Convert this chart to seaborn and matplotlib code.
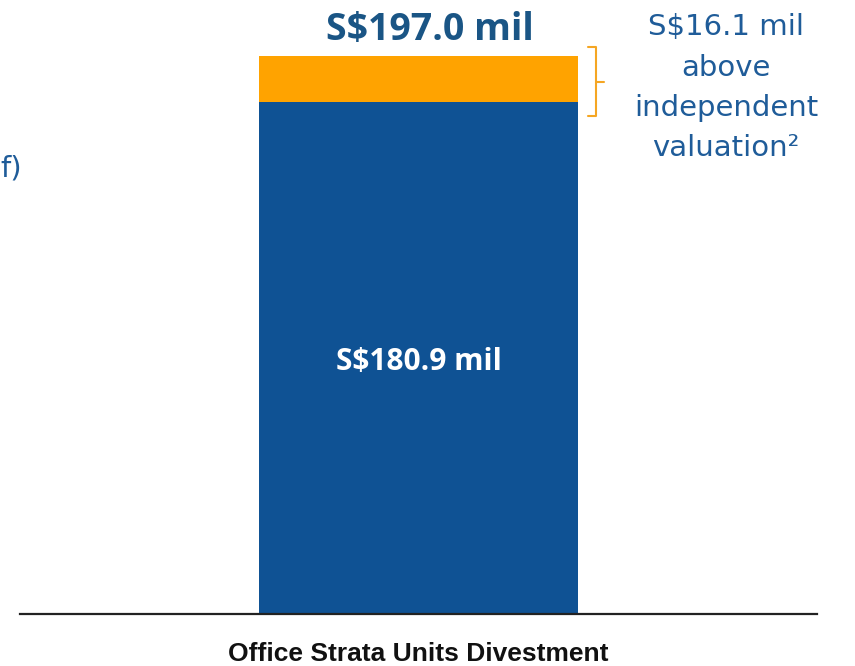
import matplotlib
matplotlib.use("Agg")
import matplotlib.pyplot as plt
import matplotlib.transforms as mtransforms
import seaborn as sns
import pandas as pd

categories = ["Office Strata Units Divestment"]
valuation = [180.9]
premium = [16.1]
total_label = "S$197.0 mil"
base_label = "S$180.9 mil"
premium_lines = ["S$16.1 mil", "above", "independent", "valuation²"]

sns.set_style("white")
plt.rcParams['font.family'] = ['DejaVu Sans']

fig = plt.figure(figsize=(8.55, 6.66), dpi=100)
ax = fig.add_axes([20/855, 52/666, 797/855, 614/666])

df = pd.DataFrame({"cat": categories, "valuation": valuation,
                   "total": [v + p for v, p in zip(valuation, premium)]})

sns.barplot(data=df, x="cat", y="total", color="#FFA300", width=0.4, ax=ax,
            saturation=1, linewidth=0)
sns.barplot(data=df, x="cat", y="valuation", color="#0F5294", width=0.4, ax=ax,
            saturation=1, linewidth=0)

ax.set_xlim(-0.5, 0.5)
ax.set_ylim(0, 216.9)
ax.set_xlabel("")
ax.set_ylabel("")
ax.set_yticks([])
for s in ["top", "left", "right"]:
    ax.spines[s].set_visible(False)
ax.spines["bottom"].set_linewidth(1.6)
ax.spines["bottom"].set_color("#222222")
ax.tick_params(axis="x", length=0, pad=20)
for lab in ax.get_xticklabels():
    lab.set_fontsize(19)
    lab.set_fontweight("bold")
    lab.set_family(["Liberation Sans Narrow", "Liberation Sans"])
    lab.set_color("#111111")

tot = valuation[0] + premium[0]
ax.text(0.014, tot + 2.6, total_label, ha="center", va="bottom", fontsize=27,
        fontweight="bold", color="#1A5585", family="Open Sans")
ax.text(0, valuation[0] / 2 - 1.5, base_label, ha="center", va="center",
        fontsize=21.5, fontweight="bold", color="white", family="Open Sans")

# bracket
tr = mtransforms.blended_transform_factory(ax.transAxes, ax.transData)
bx0 = (588 - 20) / 797
bx1 = (596 - 20) / 797
btip = (604 - 20) / 797
ylo = valuation[0] - 5
yhi = tot + 3.2
ymid = (ylo + yhi) / 2
ax.plot([bx0, bx1, bx1, bx0], [yhi, yhi, ylo, ylo], color="#F5A623",
        lw=1.5, transform=tr, clip_on=False, solid_joinstyle="round")
ax.plot([bx1, btip], [ymid, ymid], color="#F5A623", lw=1.5,
        transform=tr, clip_on=False)

ys = [27, 68, 108, 148]
for line, y in zip(premium_lines, ys):
    fig.text(726/855, 1 - y/666, line, ha="center", va="center",
             fontsize=21, color="#1F5C99", family="DejaVu Sans")

fig.text(0.001, 1 - 168/666, "f)", ha="left", va="center", fontsize=21,
         color="#1F5C99")

fig.savefig("out.png", dpi=100)
